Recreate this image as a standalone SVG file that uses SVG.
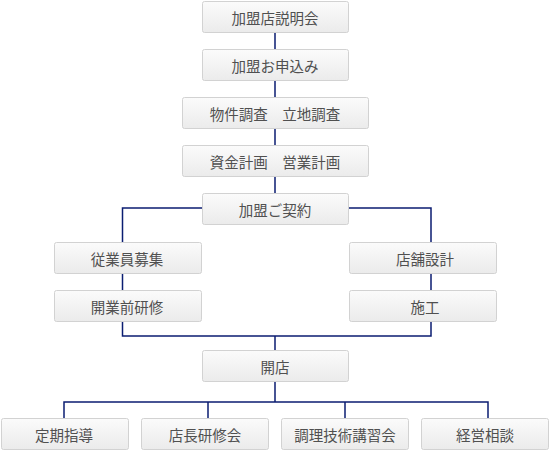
<svg xmlns="http://www.w3.org/2000/svg" width="550" height="450" viewBox="0 0 550 450">
<defs>
<linearGradient id="g" x1="0" y1="0" x2="0" y2="1">
<stop offset="0" stop-color="#fbfbfb"/>
<stop offset="1" stop-color="#ebebeb"/>
</linearGradient>
<style>
.b{fill:url(#g);stroke:#d2d2d2;stroke-width:1}
.t{font-family:"Noto Sans CJK JP","Noto Sans",sans-serif;font-size:14.5px;fill:#505050;text-anchor:middle;dominant-baseline:central}
.c{fill:none;stroke:#0b1d72;stroke-width:1.5}
</style>
</defs>
<rect width="550" height="450" fill="#ffffff"/>
<g id="connectors">
<path class="c" d="M275 32V49M275 80V97M275 128V145M275 176V193"/>
<path class="c" d="M202 208H122.5V242M348 208H431V242"/>
<path class="c" d="M122.5 274V290M431 274V290"/>
<path class="c" d="M122.5 322V336H431V322M275 336V350"/>
<path class="c" d="M275 382V402M64 418V402H488V418M208 402V418M345 402V418"/>
</g>
<g id="n1"><rect class="b" x="202.5" y="1.5" width="146" height="31" rx="2"/><text class="t" x="275" y="17">加盟店説明会</text></g>
<g id="n2"><rect class="b" x="202.5" y="49.5" width="146" height="31" rx="2"/><text class="t" x="275" y="65">加盟お申込み</text></g>
<g id="n3"><rect class="b" x="182.5" y="97.5" width="186" height="31" rx="2"/><text class="t" x="275" y="113">物件調査　立地調査</text></g>
<g id="n4"><rect class="b" x="182.5" y="145.5" width="186" height="31" rx="2"/><text class="t" x="275" y="161">資金計画　営業計画</text></g>
<g id="n5"><rect class="b" x="202.5" y="193.5" width="146" height="31" rx="2"/><text class="t" x="275" y="209">加盟ご契約</text></g>
<g id="n6"><rect class="b" x="54.5" y="242.5" width="147" height="31" rx="2"/><text class="t" x="127" y="258">従業員募集</text></g>
<g id="n7"><rect class="b" x="54.5" y="290.5" width="147" height="31" rx="2"/><text class="t" x="127" y="306">開業前研修</text></g>
<g id="n8"><rect class="b" x="349.5" y="242.5" width="147" height="31" rx="2"/><text class="t" x="425" y="258">店舗設計</text></g>
<g id="n9"><rect class="b" x="349.5" y="290.5" width="147" height="31" rx="2"/><text class="t" x="425" y="306">施工</text></g>
<g id="n10"><rect class="b" x="202.5" y="350.5" width="146" height="31" rx="2"/><text class="t" x="275" y="366">開店</text></g>
<g id="n11"><rect class="b" x="1.5" y="418.5" width="127" height="31" rx="2"/><text class="t" x="64" y="434">定期指導</text></g>
<g id="n12"><rect class="b" x="141.5" y="418.5" width="127" height="31" rx="2"/><text class="t" x="205" y="434">店長研修会</text></g>
<g id="n13"><rect class="b" x="281.5" y="418.5" width="127" height="31" rx="2"/><text class="t" x="345" y="434">調理技術講習会</text></g>
<g id="n14"><rect class="b" x="421.5" y="418.5" width="127" height="31" rx="2"/><text class="t" x="485" y="434">経営相談</text></g>
</svg>
